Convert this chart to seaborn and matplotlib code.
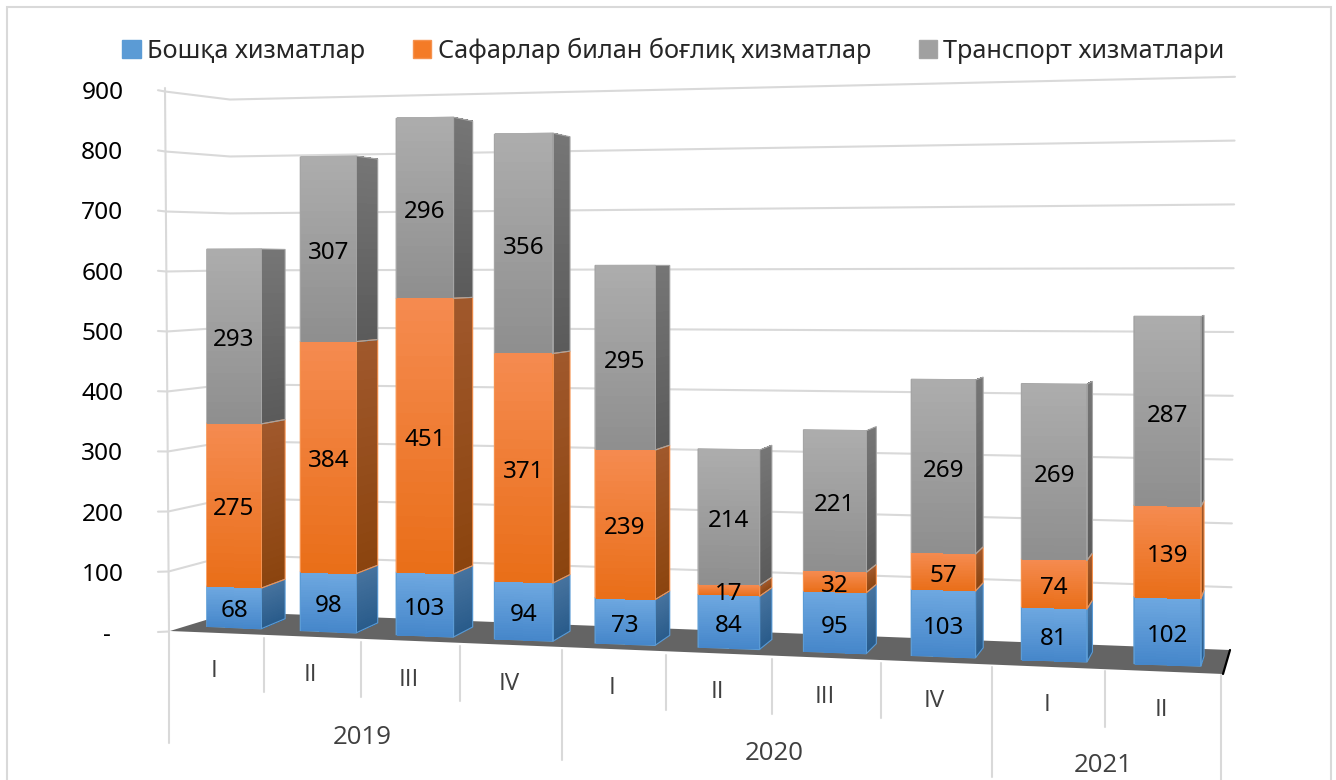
#!/usr/bin/env python3
import numpy as np
import pandas as pd
import matplotlib
matplotlib.use("Agg")
import matplotlib.pyplot as plt
from matplotlib.colors import to_rgb
from matplotlib.patches import Polygon, Rectangle
from matplotlib.transforms import IdentityTransform, Transform
import seaborn as sns

years = ["2019", "2019", "2019", "2019", "2020", "2020", "2020", "2020", "2021", "2021"]
quarters = ["I", "II", "III", "IV", "I", "II", "III", "IV", "I", "II"]
other = [68, 98, 103, 94, 73, 84, 95, 103, 81, 102]
travel = [275, 384, 451, 371, 239, 17, 32, 57, 74, 139]
transport = [293, 307, 296, 356, 295, 214, 221, 269, 269, 287]
series_names = ["Бошқа хизматлар", "Сафарлар билан боғлиқ хизматлар", "Транспорт хизматлари"]
y_ticks = [0, 100, 200, 300, 400, 500, 600, 700, 800, 900]

# front colour, top / bottom of the gradient, side face top / bottom
front_colors = ["#5b9bd5", "#f47b27", "#a0a0a0"]
front_top = ["#6ea8e0", "#f58b50", "#adadad"]
front_bottom = ["#4586ca", "#e96e18", "#8e8e8e"]
side_top = ["#46729e", "#a0582c", "#767676"]
side_bottom = ["#285a8a", "#8b440e", "#5a5a5a"]
edge_colors = ["#5b9bd5", "#f5924f", "#a5a5a5"]

W, H = 1336, 780
GRID = "#d9d9d9"


def front_xy(x, v):
    # the sheared 3D view of the excel chart, in image pixels
    px = 234 + 93 * x + 1.19 * x ** 2
    py = 627.5 + 4.15 * x - (0.595 + 0.0072 * x) * v
    return px, py


class FrontView(Transform):
    input_dims = 2
    output_dims = 2

    def transform_non_affine(self, values):
        values = np.asarray(values, dtype=float)
        px, py = front_xy(values[:, 0], values[:, 1])
        return np.column_stack([px, H - py])


def quad_mesh(ax, left_xy, right_xy, top_color, bottom_color, zorder):
    # left_xy / right_xy are (bottom, top) pairs of image pixels
    steps = 24
    t = np.linspace(0, 1, steps + 1)
    xs = np.column_stack([left_xy[0][0] + (left_xy[1][0] - left_xy[0][0]) * t,
                          right_xy[0][0] + (right_xy[1][0] - right_xy[0][0]) * t])
    ys = np.column_stack([left_xy[0][1] + (left_xy[1][1] - left_xy[0][1]) * t,
                          right_xy[0][1] + (right_xy[1][1] - right_xy[0][1]) * t])
    mid = (t[:-1] + t[1:]) / 2
    rgb = np.outer(1 - mid, to_rgb(bottom_color)) + np.outer(mid, to_rgb(top_color))
    ax.pcolormesh(xs, H - ys, rgb[:, None, :], transform=IdentityTransform(),
                  zorder=zorder, clip_on=False, shading="flat")


def side_corner(x_right, v):
    px, py = front_xy(x_right, v)
    return px + (24.5 - 2.3 * x_right), py - (10 - 0.0165 * v)


def draw_faces(ax, rect, s):
    x0, x1 = rect.get_x(), rect.get_x() + rect.get_width()
    v0, v1 = rect.get_y(), rect.get_y() + rect.get_height()
    rect.set_transform(FrontView())
    rect.set_clip_on(False)
    rect.set_zorder(3)
    rect.set_edgecolor(edge_colors[s])
    rect.set_linewidth(1.0)

    inset = 0.006
    quad_mesh(ax,
              (front_xy(x0 + inset, v0), front_xy(x0 + inset, v1)),
              (front_xy(x1 - inset, v0), front_xy(x1 - inset, v1)),
              front_top[s], front_bottom[s], 3.2)

    low, high = front_xy(x1, v0), front_xy(x1, v1)
    back_low, back_high = side_corner(x1, v0), side_corner(x1, v1)
    quad_mesh(ax, (low, high), (back_low, back_high), side_top[s], side_bottom[s], 2)
    ax.add_patch(Polygon([(p[0], H - p[1]) for p in (low, high, back_high, back_low)],
                         closed=True, fill=False, edgecolor=edge_colors[s], linewidth=0.8,
                         transform=IdentityTransform(), zorder=2.1, clip_on=False))


def draw_walls(ax):
    for v in y_ticks:
        f = v / 900
        pts = [(158, 632 - 0.602 * v), (165 + 4 * (1 - f), 631.5 - 0.6 * v),
               (230, 612 - 0.5694 * v), (1235 - 4 * (1 - f), 651 - 0.638 * v)]
        if v == 0:
            pts = pts[:2]
        ax.plot([p[0] for p in pts], [H - p[1] for p in pts], color=GRID, lw=1.5,
                transform=IdentityTransform(), zorder=1, clip_on=False)
    ax.plot([165, 169, 169], [H - 88, H - 631, H - 743], color=GRID, lw=1.5,
            transform=IdentityTransform(), zorder=1, clip_on=False)
    floor = [(170, 631), (232, 612), (1230, 650), (1223, 674)]
    ax.add_patch(Polygon([(x, H - y) for x, y in floor], closed=True, facecolor="#646464",
                         edgecolor="none", transform=IdentityTransform(), zorder=1.5, clip_on=False))
    ax.plot([1230, 1223], [H - 650, H - 674], color="black", lw=1.6,
            transform=IdentityTransform(), zorder=1.6, clip_on=False)


def draw_categories(ax):
    def edge(j):
        return 169 + 93.5 * j + 1.17 * j ** 2

    n = len(quarters)
    for j in range(1, n + 1):
        new_year = j == n or years[j] != years[j - 1]
        bottom = (743 + 4.25 * j) if new_year else (688 + 4.3 * j)
        ax.plot([edge(j), edge(j)], [H - (634 + 4.1 * j), H - bottom], color=GRID, lw=1.5,
                transform=IdentityTransform(), zorder=1, clip_on=False)
    # Noto's capital I has serifs, the original's has none
    for j, q in enumerate(quarters):
        ax.text((edge(j) + edge(j + 1)) / 2 - 2, H - (671 + 4.3 * j), q, ha="center", va="center",
                fontsize=17.5, family="Open Sans", color="#404040",
                transform=IdentityTransform(), clip_on=False)
    for year in sorted(set(years)):
        idx = [j for j, y in enumerate(years) if y == year]
        mid = (edge(idx[0]) + edge(idx[-1] + 1)) / 2
        ax.text(mid - 3, H - (731 + 4.3 * (idx[0] + idx[-1]) / 2 * 0.95), year, ha="center", va="center",
                fontsize=18.6, family="Open Sans", color="#404040",
                transform=IdentityTransform(), clip_on=False)


def main():
    sns.set_style("white")
    plt.rcParams["font.family"] = ["Noto Sans", "DejaVu Sans"]

    df = pd.DataFrame({"pos": range(len(quarters)), "other": other, "travel": travel, "transport": transport})

    fig = plt.figure(figsize=(W / 100, H / 100), dpi=100)
    ax = fig.add_axes([165 / W, (H - 632) / H, 1070 / W, 542 / H])
    fig.add_artist(Rectangle((7 / W, -0.05), 1324 / W, 1.05 - 7.5 / H, fill=False, edgecolor=GRID,
                             linewidth=1.5, transform=fig.transFigure))

    bottom = np.zeros(len(df))
    for s, col in enumerate(["other", "travel", "transport"]):
        n_before = len(ax.patches)
        sns.barplot(data=df, x="pos", y=col, native_scale=True, color=front_colors[s], saturation=1,
                    width=0.585, bottom=bottom, errorbar=None, label=series_names[s], ax=ax)
        for i, rect in enumerate(ax.patches[n_before:len(ax.patches)]):
            draw_faces(ax, rect, s)
            # text sits a few px low in the original, hence the -7
            ax.text(rect.get_x() + rect.get_width() / 2, rect.get_y() + rect.get_height() / 2 - 7,
                    str(df[col].iloc[i]), ha="center", va="center", fontsize=17.4, color="black",
                    transform=FrontView(), zorder=5, clip_on=False)
        bottom = bottom + df[col].to_numpy()

    draw_walls(ax)
    draw_categories(ax)

    ax.set_xlim(-0.5, 9.5)
    ax.set_ylim(0, 900)
    ax.set_xticks([])
    ax.set_xlabel("")
    ax.set_ylabel("")
    ax.set_yticks(y_ticks)
    ax.set_yticklabels(["-  "] + [str(v) for v in y_ticks[1:]], fontsize=17.6, color="black")
    ax.tick_params(axis="y", length=0, pad=30)
    sns.despine(ax=ax, left=True, bottom=True)
    ax.patch.set_visible(False)

    ax.legend(loc="center", bbox_to_anchor=(673.5 / W, (H - 51) / H), bbox_transform=fig.transFigure,
              ncol=3, frameon=False, fontsize=18.2, handlelength=0.72, handleheight=0.72,
              handletextpad=0.25, columnspacing=1.9, borderpad=0, borderaxespad=0)

    fig.savefig("out.png", dpi=100)
    plt.close(fig)


if __name__ == "__main__":
    main()
